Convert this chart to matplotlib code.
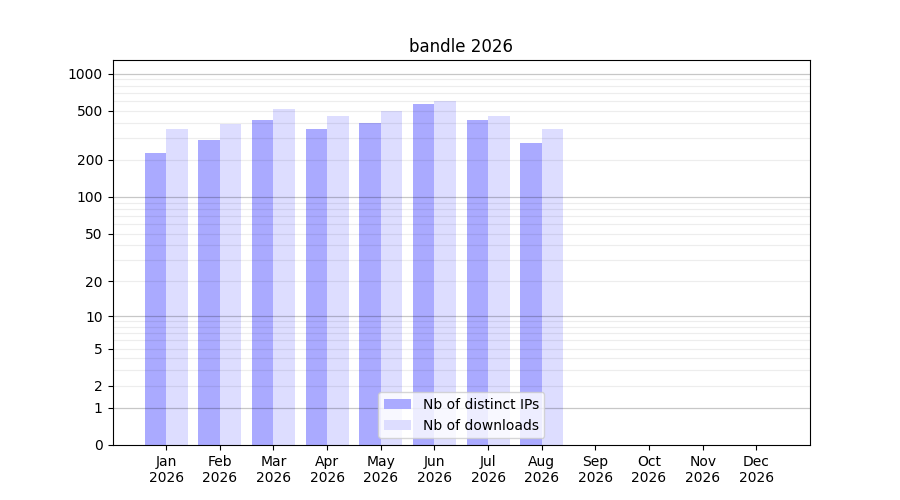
import numpy as np
import matplotlib
matplotlib.use("Agg")
import matplotlib.pyplot as plt

months = ["Jan", "Feb", "Mar", "Apr", "May", "Jun", "Jul", "Aug", "Sep", "Oct", "Nov", "Dec"]
year = "2026"
ips = [228, 290, 420, 356, 398, 567, 420, 276, 0, 0, 0, 0]
downloads = [356, 391, 517, 454, 498, 604, 454, 356, 0, 0, 0, 0]
ytick_vals = [0, 1, 2, 5, 10, 20, 50, 100, 200, 500, 1000]

fig, ax = plt.subplots(figsize=(9, 5), dpi=100)

f = lambda v: np.log10(1 + np.asarray(v, dtype=float))
finv = lambda v: 10 ** np.asarray(v, dtype=float) - 1
ax.set_yscale("function", functions=(f, finv))

x = np.arange(len(months))
ax.bar(x - 0.2, ips, width=0.4, color="#aaaaff", label="Nb of distinct IPs", zorder=1)
ax.bar(x + 0.2, downloads, width=0.4, color="#ddddff", label="Nb of downloads", zorder=1)

# grid lines
for dec in [1, 10, 100, 1000]:
    ax.axhline(dec, color="black", alpha=0.22, lw=0.9, zorder=1.5)
for dec in [1, 10, 100]:
    for m in range(2, 10):
        ax.axhline(dec * m, color="black", alpha=0.07, lw=0.9, zorder=1.5)

ax.set_yticks(ytick_vals)
ax.set_yticklabels([str(v) for v in ytick_vals])
ax.yaxis.set_minor_locator(matplotlib.ticker.NullLocator())
ax.set_ylim(0, 1290)
ax.set_xticks(x)
ax.set_xticklabels([f"{m}\n{year}" for m in months])
ax.set_xlim(-1, 12)
ax.set_title("bandle 2026")
ax.legend(loc="lower center")

fig.savefig("out.png")
